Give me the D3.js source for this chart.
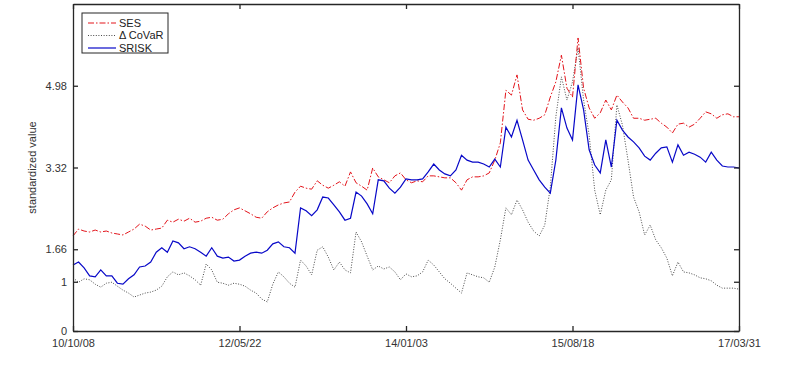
<!DOCTYPE html>
<html>
<head>
<meta charset="utf-8">
<script src="https://cdn.jsdelivr.net/npm/d3@7"></script>
<style>
  body { margin: 0; background: #fff; }
  text { font-family: "Liberation Sans", Arial, sans-serif; }
</style>
</head>
<body>
<div id="chart"></div>
<script>
// 数据 (标准化值, 按观测序号)
const tickLabels = ['10/10/08', '12/05/22', '14/01/03', '15/08/18', '17/03/31'];
const yTicks = [0, 1, 1.66, 3.32, 4.98];
const seriesNames = ['SES', '\u0394 CoVaR', 'SRISK'];

const ses = [1.93, 2.07, 2.03, 2.01, 2.05, 2.01, 2.03, 1.99, 1.97, 1.95,
  2.01, 2.07, 2.17, 2.13, 2.05, 2.07, 2.09, 2.25, 2.21, 2.27,
  2.23, 2.29, 2.21, 2.23, 2.29, 2.31, 2.25, 2.27, 2.38, 2.46,
  2.50, 2.44, 2.38, 2.31, 2.29, 2.42, 2.50, 2.56, 2.60, 2.62,
  2.82, 2.94, 2.90, 2.88, 3.05, 2.96, 2.90, 2.96, 3.03, 2.94,
  3.23, 3.01, 2.94, 2.86, 3.31, 3.13, 3.07, 3.01, 3.15, 3.21,
  3.07, 3.01, 3.05, 3.03, 3.15, 3.15, 3.13, 3.11, 3.11, 3.01,
  2.86, 3.07, 3.13, 3.13, 3.15, 3.21, 3.47, 3.82, 4.89, 4.79,
  5.20, 4.49, 4.30, 4.28, 4.32, 4.39, 4.75, 5.06, 5.60, 4.93,
  4.75, 5.95, 4.93, 4.53, 4.32, 4.43, 4.69, 4.49, 4.79, 4.65,
  4.53, 4.32, 4.32, 4.28, 4.30, 4.32, 4.22, 4.14, 4.02, 4.20,
  4.22, 4.14, 4.20, 4.32, 4.45, 4.41, 4.32, 4.39, 4.41, 4.35, 4.35];

const covar = [1.08, 0.99, 1.06, 1.04, 0.95, 0.89, 0.97, 0.99, 0.91, 0.83,
  0.77, 0.69, 0.73, 0.77, 0.79, 0.83, 0.91, 1.10, 1.20, 1.14,
  1.18, 1.12, 1.04, 0.93, 1.36, 1.24, 0.99, 0.97, 0.93, 0.97,
  0.95, 0.91, 0.83, 0.77, 0.65, 0.59, 0.95, 1.20, 1.10, 0.97,
  0.89, 1.44, 1.32, 1.14, 1.64, 1.71, 1.50, 1.24, 1.40, 1.24,
  1.18, 2.01, 1.81, 1.52, 1.24, 1.32, 1.26, 1.30, 1.20, 1.04,
  1.16, 1.10, 1.12, 1.20, 1.44, 1.34, 1.20, 1.06, 0.97, 0.87,
  0.77, 1.18, 1.14, 1.10, 1.08, 0.99, 1.30, 1.85, 2.50, 2.36,
  2.66, 2.46, 2.21, 2.03, 1.93, 2.15, 2.92, 4.35, 5.16, 4.69,
  5.06, 5.75, 4.69, 3.98, 2.86, 2.36, 2.86, 3.07, 4.59, 4.18,
  3.47, 2.72, 2.42, 1.95, 2.15, 1.85, 1.69, 1.48, 1.12, 1.40,
  1.20, 1.18, 1.14, 1.08, 1.06, 1.02, 0.93, 0.87, 0.87, 0.87, 0.85];

const srisk = [1.34, 1.40, 1.28, 1.12, 1.10, 1.24, 1.12, 1.12, 0.97, 0.95,
  1.06, 1.14, 1.30, 1.32, 1.40, 1.60, 1.69, 1.60, 1.83, 1.79,
  1.67, 1.71, 1.67, 1.60, 1.52, 1.69, 1.52, 1.48, 1.50, 1.42,
  1.44, 1.52, 1.58, 1.60, 1.58, 1.64, 1.77, 1.81, 1.71, 1.69,
  1.58, 2.50, 2.44, 2.34, 2.46, 2.72, 2.70, 2.56, 2.42, 2.25,
  2.29, 2.82, 2.74, 2.58, 2.38, 3.07, 3.05, 2.90, 2.80, 2.92,
  3.09, 3.07, 3.07, 3.09, 3.23, 3.39, 3.27, 3.19, 3.15, 3.27,
  3.57, 3.47, 3.43, 3.43, 3.39, 3.33, 3.49, 3.33, 4.14, 3.94,
  4.28, 3.88, 3.47, 3.27, 3.07, 2.92, 2.80, 3.47, 4.53, 4.12,
  3.88, 5.00, 4.49, 3.68, 3.37, 3.21, 3.88, 3.33, 4.28, 4.08,
  3.94, 3.84, 3.72, 3.55, 3.47, 3.61, 3.72, 3.74, 3.43, 3.78,
  3.57, 3.63, 3.59, 3.53, 3.43, 3.63, 3.47, 3.35, 3.33, 3.33, 3.31];

// ***************绘制*******************
const width = 792;
const height = 377;
const margin = { top: 4, right: 53, bottom: 46, left: 73 };
const innerW = width - margin.left - margin.right;
const innerH = height - margin.top - margin.bottom;
const axisColor = '#262626';

const svg = d3.select('#chart').append('svg')
  .attr('width', width)
  .attr('height', height);

const n = ses.length;
const x = d3.scaleLinear().domain([0, n - 1]).range([margin.left, margin.left + innerW]);
const y = d3.scaleLinear().domain([0, 6.64]).range([margin.top + innerH, margin.top]);
const xTickVals = tickLabels.map((d, i) => (i * (n - 1)) / (tickLabels.length - 1));

// 折线
const line = d3.line()
  .x((d, i) => x(i))
  .y((d) => y(d));

const series = [
  { name: seriesNames[0], values: ses, color: '#e3141b', dash: '6,2,1.5,2', w: 1 },
  { name: seriesNames[1], values: covar, color: '#4a4a4a', dash: '1,1.6', w: 1 },
  { name: seriesNames[2], values: srisk, color: '#0808c8', dash: null, w: 1.2 }
];

const plot = svg.append('g').attr('class', 'lines');
plot.selectAll('path')
  .data([series[1], series[0], series[2]])
  .enter()
  .append('path')
  .attr('d', (d) => line(d.values))
  .attr('fill', 'none')
  .attr('stroke', (d) => d.color)
  .attr('stroke-width', (d) => d.w)
  .attr('stroke-dasharray', (d) => d.dash);

// 坐标轴 (刻度朝内)
const tickLen = 5;
const axisBottom = svg.append('g')
  .attr('transform', `translate(0,${margin.top + innerH})`)
  .call(d3.axisBottom(x).tickValues(xTickVals).tickFormat((d, i) => tickLabels[i])
    .tickSizeInner(-tickLen).tickSizeOuter(0).tickPadding(8));
const axisTop = svg.append('g')
  .attr('transform', `translate(0,${margin.top})`)
  .call(d3.axisTop(x).tickValues(xTickVals).tickFormat('')
    .tickSizeInner(-tickLen).tickSizeOuter(0));
const axisLeft = svg.append('g')
  .attr('transform', `translate(${margin.left},0)`)
  .call(d3.axisLeft(y).tickValues(yTicks).tickFormat((d) => d)
    .tickSizeInner(-tickLen).tickSizeOuter(0).tickPadding(6));
const axisRight = svg.append('g')
  .attr('transform', `translate(${margin.left + innerW},0)`)
  .call(d3.axisRight(y).tickValues(yTicks).tickFormat('')
    .tickSizeInner(-tickLen).tickSizeOuter(0));

[axisBottom, axisTop, axisLeft, axisRight].forEach((g) => {
  g.select('.domain').attr('stroke', axisColor).attr('stroke-width', 1.3);
  g.selectAll('.tick line').attr('stroke', axisColor).attr('stroke-width', 1.3);
  g.selectAll('.tick text')
    .attr('fill', '#333')
    .style('font-size', '11px')
    .style('font-family', '"Liberation Sans", Arial, sans-serif');
});

// y 轴标题
svg.append('text')
  .attr('transform', `translate(36,${margin.top + innerH / 2}) rotate(-90)`)
  .attr('text-anchor', 'middle')
  .attr('fill', '#333')
  .style('font-size', '11px')
  .text('standardized value');

// 图例
const legend = svg.append('g').attr('transform', 'translate(82,13)');
legend.append('rect')
  .attr('width', 86)
  .attr('height', 40)
  .attr('fill', '#fff')
  .attr('stroke', axisColor)
  .attr('stroke-width', 1);

const legendItem = legend.selectAll('.legendItem')
  .data(series)
  .enter()
  .append('g')
  .attr('class', 'legendItem')
  .attr('transform', (d, i) => `translate(0,${10 + i * 12.5})`);
legendItem.append('line')
  .attr('x1', 6)
  .attr('x2', 34)
  .attr('stroke', (d) => d.color)
  .attr('stroke-width', (d) => d.w)
  .attr('stroke-dasharray', (d) => d.dash);
legendItem.append('text')
  .attr('x', 37)
  .attr('dy', '0.35em')
  .attr('fill', '#222')
  .style('font-size', '11px')
  .text((d) => d.name);
</script>
</body>
</html>
